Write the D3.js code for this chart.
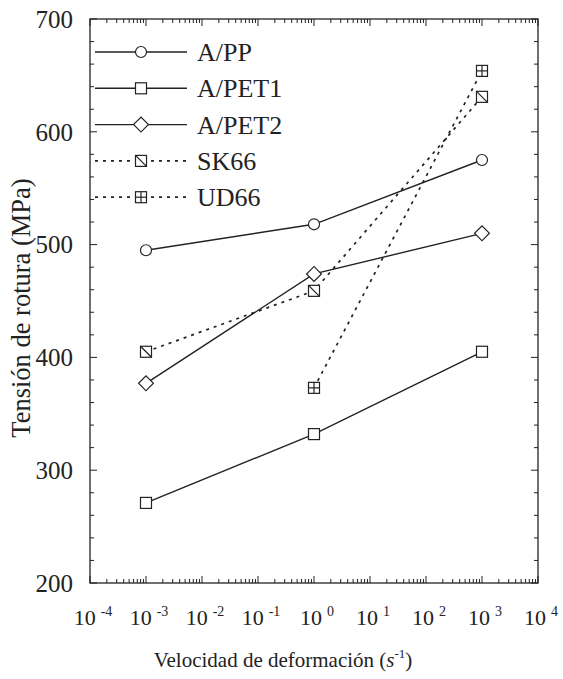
<!DOCTYPE html>
<html>
<head>
<meta charset="utf-8">
<script src="https://cdn.jsdelivr.net/npm/d3@7"></script>
<style>
  body { margin: 0; background: #fff; }
</style>
</head>
<body>
<div id="chart"></div>
<script>
// data
const rates = [1e-3, 1e0, 1e3];
const seriesNames = ["A/PP", "A/PET1", "A/PET2", "SK66", "UD66"];
const aPP   = [495, 518, 575];
const aPET1 = [271, 332, 405];
const aPET2 = [377, 474, 510];
const sk66  = [405, 459, 631];
const ud66  = [null, 373, 654];
const xTickExp = [-4, -3, -2, -1, 0, 1, 2, 3, 4];
const yTicks = [200, 300, 400, 500, 600, 700];

const series = [
  {name: seriesNames[0], values: aPP,   marker: "circle",  dash: null},
  {name: seriesNames[1], values: aPET1, marker: "square",  dash: null},
  {name: seriesNames[2], values: aPET2, marker: "diamond", dash: null},
  {name: seriesNames[3], values: sk66,  marker: "slash",   dash: "3,5"},
  {name: seriesNames[4], values: ud66,  marker: "cross",   dash: "3,5"}
];

const W = 563, H = 679;
const margin = {top: 19, right: 25, bottom: 96, left: 90},
      width = W - margin.left - margin.right,
      height = H - margin.top - margin.bottom;
const ink = "#222";
const serif = "'Liberation Serif', 'Times New Roman', Tinos, 'Noto Serif', 'DejaVu Serif', serif";

const svg = d3.select("#chart").append("svg")
    .attr("width", W).attr("height", H)
    .attr("font-family", serif)
    .attr("fill", ink);
const g = svg.append("g")
    .attr("transform", "translate(" + margin.left + "," + margin.top + ")");

const x = d3.scaleLog().domain([1e-4, 1e4]).range([0, width]);
const y = d3.scaleLinear().domain([200, 700]).range([height, 0]);

// ticks: majors at decades, minors at 2..9
const minorX = [];
for (let e = -4; e < 4; e++) for (let m = 2; m <= 9; m++) minorX.push(m * Math.pow(10, e));
const minorY = d3.range(200, 701, 20).filter(v => v % 100 !== 0);

const ticks = g.append("g").attr("stroke", ink).attr("stroke-width", 1);
xTickExp.forEach(e => {
  const px = x(Math.pow(10, e));
  ticks.append("line").attr("x1", px).attr("x2", px).attr("y1", height).attr("y2", height - 7);
  ticks.append("line").attr("x1", px).attr("x2", px).attr("y1", 0).attr("y2", 7);
});
minorX.forEach(v => {
  const px = x(v);
  ticks.append("line").attr("x1", px).attr("x2", px).attr("y1", height).attr("y2", height - 4);
  ticks.append("line").attr("x1", px).attr("x2", px).attr("y1", 0).attr("y2", 4);
});
yTicks.forEach(v => {
  ticks.append("line").attr("x1", 0).attr("x2", 7).attr("y1", y(v)).attr("y2", y(v));
  ticks.append("line").attr("x1", width).attr("x2", width - 7).attr("y1", y(v)).attr("y2", y(v));
});
minorY.forEach(v => {
  ticks.append("line").attr("x1", 0).attr("x2", 4).attr("y1", y(v)).attr("y2", y(v));
  ticks.append("line").attr("x1", width).attr("x2", width - 4).attr("y1", y(v)).attr("y2", y(v));
});

// frame
g.append("rect").attr("width", width).attr("height", height)
    .attr("fill", "none").attr("stroke", ink).attr("stroke-width", 1.3);

// tick labels
yTicks.forEach(v => {
  g.append("text").attr("x", -17).attr("y", y(v)).attr("dy", "0.35em")
      .attr("text-anchor", "end").style("font-size", "25px").text(v);
});
xTickExp.forEach(e => {
  const t = g.append("text").attr("x", x(Math.pow(10, e)) + 3).attr("y", height + 42)
      .attr("text-anchor", "middle").style("font-size", "22px");
  t.append("tspan").text("10");
  t.append("tspan").attr("dy", -9).attr("dx", 5).style("font-size", "14px")
      .text(e < 0 ? "-" + (-e) : e);
});

// axis titles
svg.append("text").attr("transform", "translate(30,308) rotate(-90)")
    .attr("text-anchor", "middle").style("font-size", "26.5px").text("Tensión de rotura (MPa)");
const xt = svg.append("text").attr("x", 283).attr("y", 667)
    .attr("text-anchor", "middle").style("font-size", "21px");
xt.append("tspan").text("Velocidad de deformación (");
xt.append("tspan").style("font-style", "italic").text("s");
xt.append("tspan").attr("dy", -9).style("font-size", "13px").text("-1");
xt.append("tspan").attr("dy", 9).text(")");

// markers
function drawMarker(sel, type) {
  const s = 5.5;
  const common = m => m.attr("fill", "#fff").attr("stroke", ink).attr("stroke-width", 1.2);
  if (type === "circle") {
    common(sel.append("circle").attr("r", 5.5));
  } else if (type === "diamond") {
    common(sel.append("path").attr("d", d3.symbol().type(d3.symbolSquare).size(110)()).attr("transform", "rotate(45)"));
  } else {
    common(sel.append("rect").attr("x", -s).attr("y", -s).attr("width", 2 * s).attr("height", 2 * s));
    if (type === "slash") {
      sel.append("line").attr("x1", -s).attr("y1", -s).attr("x2", s).attr("y2", s)
          .attr("stroke", ink).attr("stroke-width", 1.2);
    } else if (type === "cross") {
      sel.append("line").attr("x1", -s).attr("y1", 0).attr("x2", s).attr("y2", 0)
          .attr("stroke", ink).attr("stroke-width", 1.2);
      sel.append("line").attr("x1", 0).attr("y1", -s).attr("x2", 0).attr("y2", s)
          .attr("stroke", ink).attr("stroke-width", 1.2);
    }
  }
}

const line = d3.line()
    .defined(d => d.v != null)
    .x(d => x(d.r))
    .y(d => y(d.v));

const data = g.append("g");
series.forEach(s => {
  const pts = rates.map((r, i) => ({r: r, v: s.values[i]}));
  data.append("path").datum(pts)
      .attr("fill", "none").attr("stroke", ink).attr("stroke-width", s.dash ? 1.7 : 1.4)
      .attr("stroke-dasharray", s.dash)
      .attr("d", line);
});
series.forEach(s => {
  rates.forEach((r, i) => {
    if (s.values[i] == null) return;
    const m = data.append("g").attr("transform", "translate(" + x(r) + "," + y(s.values[i]) + ")");
    drawMarker(m, s.marker);
  });
});

// legend
const legend = g.append("g").attr("transform", "translate(5,33)");
series.forEach((s, i) => {
  const row = legend.append("g").attr("transform", "translate(0," + (i * 36.3) + ")");
  row.append("line").attr("x1", 0).attr("x2", 92)
      .attr("stroke", ink).attr("stroke-width", s.dash ? 1.7 : 1.4)
      .attr("stroke-dasharray", s.dash);
  drawMarker(row.append("g").attr("transform", "translate(46,0)"), s.marker);
  row.append("text").attr("x", 102).attr("dy", "0.35em")
      .style("font-size", "26px").text(s.name);
});
</script>
</body>
</html>
